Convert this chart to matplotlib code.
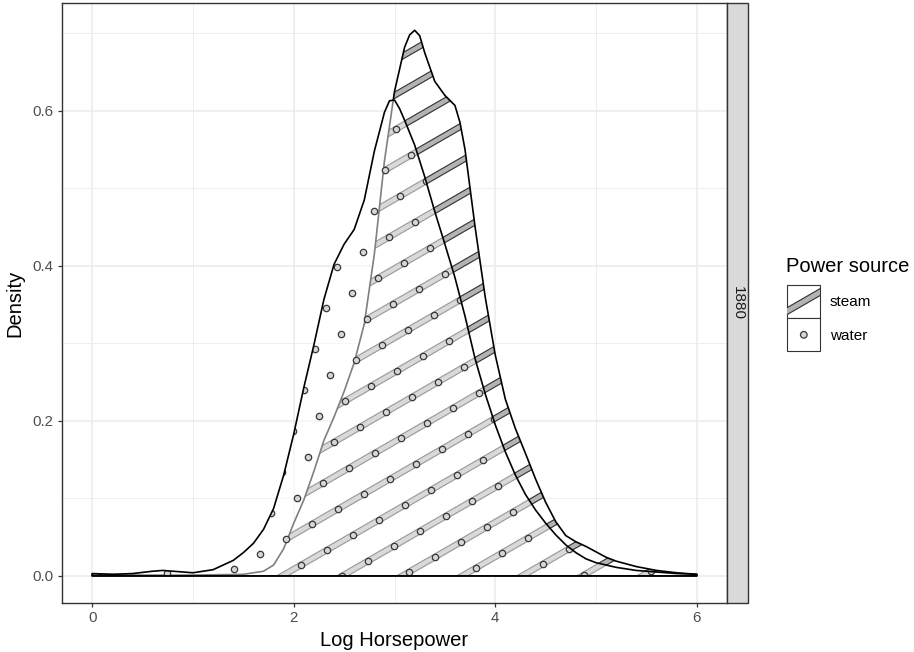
import numpy as np
import matplotlib
matplotlib.use("Agg")
from matplotlib import pyplot as plt
from matplotlib.patches import Polygon, Rectangle, Ellipse
from matplotlib.collections import PatchCollection

plt.rcParams['font.family'] = ['Liberation Sans', 'DejaVu Sans']

# density of log horsepower, 1880 panel
steam_x = [0.0, 0.5, 1.0, 1.5, 1.7, 1.8, 1.9, 2.0, 2.1, 2.2, 2.3, 2.4, 2.5, 2.6, 2.7,
           2.8, 2.9, 3.0, 3.1, 3.15, 3.2, 3.25, 3.3, 3.4, 3.5, 3.6, 3.65, 3.7, 3.75,
           3.8, 3.9, 4.0, 4.1, 4.2, 4.3, 4.4, 4.5, 4.6, 4.7, 4.8, 4.9, 5.0, 5.1,
           5.2, 5.4, 5.6, 5.8, 6.0]
steam_y = [0.002, 0.001, 0.001, 0.002, 0.006, 0.014, 0.035, 0.068, 0.098, 0.135,
           0.175, 0.205, 0.238, 0.275, 0.325, 0.415, 0.535, 0.625, 0.682, 0.698,
           0.704, 0.697, 0.675, 0.638, 0.62, 0.607, 0.585, 0.55, 0.50, 0.45, 0.36,
           0.285, 0.228, 0.19, 0.158, 0.125, 0.095, 0.07, 0.052, 0.044, 0.038,
           0.031, 0.024, 0.019, 0.012, 0.007, 0.004, 0.002]
water_x = [0.0, 0.2, 0.4, 0.6, 0.7, 0.8, 1.0, 1.2, 1.4, 1.5, 1.6, 1.7, 1.8, 1.9,
           2.0, 2.1, 2.2, 2.3, 2.4, 2.5, 2.6, 2.7, 2.8, 2.9, 2.95, 3.0, 3.05, 3.1,
           3.2, 3.3, 3.4, 3.5, 3.6, 3.7, 3.8, 3.9, 4.0, 4.1, 4.2, 4.3, 4.4, 4.5,
           4.6, 4.7, 4.8, 4.9, 5.0, 5.1, 5.2, 5.4, 5.6, 5.8, 6.0]
water_y = [0.003, 0.002, 0.003, 0.006, 0.007, 0.006, 0.004, 0.008, 0.02, 0.03,
           0.042, 0.06, 0.087, 0.13, 0.183, 0.243, 0.298, 0.357, 0.402, 0.428,
           0.447, 0.485, 0.548, 0.598, 0.613, 0.614, 0.603, 0.588, 0.556, 0.515,
           0.47, 0.428, 0.385, 0.335, 0.28, 0.235, 0.195, 0.16, 0.13, 0.105,
           0.085, 0.068, 0.053, 0.04, 0.03, 0.022, 0.017, 0.014, 0.011, 0.007,
           0.005, 0.003, 0.002]
sources = ["steam", "water"]
x_ticks = [0, 2, 4, 6]
y_ticks = [0.0, 0.2, 0.4, 0.6]
panel_label = "1880"

W, H = 914, 652
ANG = np.deg2rad(30)
SPACING = 30.0


def fig_box(x0, y0, x1, y1):
    # pixel box, top-left origin -> figure fraction rect
    return [x0 / W, 1 - y1 / H, (x1 - x0) / W, (y1 - y0) / H]


def px2fig(pts):
    pts = np.asarray(pts, dtype=float)
    return np.column_stack([pts[:, 0] / W, 1 - pts[:, 1] / H])


def area(x, y):
    return [(x[0], 0)] + list(zip(x, y)) + [(x[-1], 0)]


def stripes(anchor, width):
    # bands in display pixels (y up)
    d = np.array([np.cos(ANG), np.sin(ANG)])
    n = np.array([np.sin(ANG), -np.cos(ANG)])
    h = n * width / 2
    out = []
    for j in range(-45, 46):
        c = anchor + j * SPACING * n
        a, b = c - 1500 * d, c + 1500 * d
        out.append(np.array([a - h, b - h, b + h, a + h]))
    return out


def dots(anchor):
    d = np.array([np.cos(ANG), np.sin(ANG)])
    n = np.array([np.sin(ANG), -np.cos(ANG)])
    pts = []
    for i in range(-45, 46):
        for j in range(-45, 46):
            p = anchor + i * SPACING * d + j * SPACING * n
            if 0 <= p[0] <= W and 0 <= p[1] <= H:
                pts.append(p)
    return np.array(pts)


fig = plt.figure(figsize=(W / 100, H / 100), dpi=100)
ax = fig.add_axes(fig_box(62, 3, 727, 603))
ax.set_xlim(-0.3, 6.3)
ax.set_ylim(-0.035, 0.7392)

ax.set_xticks(x_ticks)
ax.set_xticks([1, 3, 5], minor=True)
ax.set_yticks(y_ticks)
ax.set_yticks([0.1, 0.3, 0.5, 0.7], minor=True)
ax.set_yticklabels([f"{v:.1f}" for v in y_ticks])
ax.grid(which='major', color='#ebebeb', lw=1.1)
ax.grid(which='minor', color='#ebebeb', lw=0.6)
ax.set_axisbelow(True)
ax.tick_params(which='minor', length=0)
ax.tick_params(which='major', length=3, width=0.9, color='#333333',
               labelcolor='#4d4d4d', labelsize=10.8, pad=3)
for s in ax.spines.values():
    s.set_color('#333333')
    s.set_linewidth(1.0)

fig.canvas.draw()
inv = ax.transData.inverted()
anchor = np.array([342.0, H - 576.0])

# steam: striped
steam_fill = Polygon(area(steam_x, steam_y), closed=True, facecolor='white',
                     edgecolor='none', zorder=2)
ax.add_patch(steam_fill)
bands = [Polygon(inv.transform(b), closed=True) for b in stripes(anchor, 5.5)]
pc = PatchCollection(bands, facecolor='#b3b3b3', edgecolor='#383838',
                     linewidth=0.85, zorder=2.1)
ax.add_collection(pc)
pc.set_clip_path(steam_fill)
ax.add_patch(Polygon(area(steam_x, steam_y), closed=True, facecolor='none',
                     edgecolor='black', lw=1.2, joinstyle='round', zorder=2.2))

# water: dotted, half transparent
water_fill = Polygon(area(water_x, water_y), closed=True, facecolor='white',
                     alpha=0.5, edgecolor='none', zorder=2.3)
ax.add_patch(water_fill)
dp = inv.transform(dots(anchor))
sc = ax.scatter(dp[:, 0], dp[:, 1], s=21, facecolor='#d6d6d6',
                edgecolor='#383838', linewidths=0.9, zorder=2.4)
sc.set_clip_path(water_fill)
ax.add_patch(Polygon(area(water_x, water_y), closed=True, facecolor='none',
                     edgecolor='black', lw=1.2, joinstyle='round', zorder=2.5))

# axis titles
fig.text(394.5 / W, 1 - 646 / H, "Log Horsepower", ha='center', va='baseline',
         fontsize=14.5)
fig.text(15 / W, 1 - 303 / H, "Density", ha='center', va='center',
         rotation=90, fontsize=14.5)

# facet strip
fig.add_artist(Rectangle((727 / W, 1 - 603 / H), 21 / W, 600 / H,
                         transform=fig.transFigure, facecolor='#d9d9d9',
                         edgecolor='#333333', lw=1.0))
fig.text(737.5 / W, 1 - 303 / H, panel_label, ha='center', va='center',
         rotation=270, fontsize=11, color='#1a1a1a')

# legend
fig.text(786 / W, 1 - 272 / H, "Power source", ha='left', va='baseline',
         fontsize=14.5)
kx0, kx1 = 787.3, 820.3
key_tops = [285.0, 318.3]
for name, top in zip(sources, key_tops):
    box = Rectangle((kx0 / W, 1 - (top + 33) / H), 33 / W, 33 / H,
                    transform=fig.transFigure, facecolor='white',
                    edgecolor='#333333', lw=0.8)
    fig.add_artist(box)
    cx, cy = (kx0 + kx1) / 2, top + 16.5
    if name == "steam":
        d = np.array([np.cos(ANG), -np.sin(ANG)])
        n = np.array([np.sin(ANG), np.cos(ANG)]) * 3
        c = np.array([cx, cy])
        band = [c - 40 * d - n, c + 40 * d - n, c + 40 * d + n, c - 40 * d + n]
        bp = Polygon(px2fig(band), closed=True, transform=fig.transFigure,
                     facecolor='#b3b3b3', edgecolor='#383838', lw=0.85)
        fig.add_artist(bp)
        bp.set_clip_path(box)
    else:
        fig.add_artist(Ellipse((cx / W, 1 - cy / H), 6.6 / W, 6.6 / H,
                               transform=fig.transFigure, facecolor='#d6d6d6',
                               edgecolor='#383838', lw=0.9))
    fig.text(830 / W, 1 - (top + 21.5) / H, name, ha='left', va='baseline',
             fontsize=11)

fig.savefig("out.png", dpi=100)
